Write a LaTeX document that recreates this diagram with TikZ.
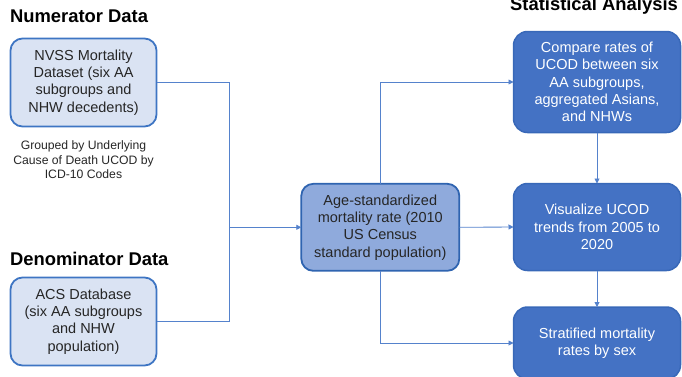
\documentclass[tikz,border=0pt]{standalone}
\usepackage{fontspec}
\setmainfont{Liberation Sans}
\usetikzlibrary{arrows.meta}
\definecolor{lightfill}{HTML}{DAE3F3}
\definecolor{lightborder}{HTML}{3E75C3}
\definecolor{midfill}{HTML}{8FAADC}
\definecolor{midborder}{HTML}{2F64B0}
\definecolor{darkfill}{HTML}{4472C4}
\definecolor{darkborder}{HTML}{3868B8}
\definecolor{linecol}{HTML}{5582CC}
\definecolor{txt}{HTML}{262626}
\begin{document}
\begin{tikzpicture}[x=1pt,y=-1pt,
  every node/.style={inner sep=0pt, outer sep=0pt},
  boxtext/.style={align=center, font=\fontsize{14.5}{17.3}\selectfont},
  lightbox/.style={boxtext, draw=lightborder, fill=lightfill, line width=1.8pt, rounded corners=12pt, minimum width=146pt, minimum height=88pt, text=txt},
  midbox/.style={boxtext, draw=midborder, fill=midfill, line width=1.8pt, rounded corners=12pt, minimum width=158pt, minimum height=87pt, text=txt},
  darkbox/.style={boxtext, draw=darkborder, fill=darkfill, line width=1.5pt, rounded corners=14pt, minimum width=167pt, text=white},
  heading/.style={font=\bfseries\fontsize{18.4}{21}\selectfont, text=black},
  note/.style={align=center, font=\fontsize{12.2}{14.5}\selectfont, text=txt},
  conn/.style={draw=linecol, line width=0.85pt},
  arr/.style={conn, -{Triangle[length=5pt,width=5pt]}}
]
\path[use as bounding box] (0,0) rectangle (682,376);
\clip (0,0) rectangle (682,376);

\node[heading, anchor=base west] (hnum) at (10,22.7) {Numerator Data};
\node[heading, anchor=base west] (hden) at (10,265) {Denominator Data};
\node[heading, anchor=base] (hstat) at (594,10) {Statistical Analysis};

\node[lightbox] (nvss) at (83.5,82.5) {NVSS Mortality\\Dataset (six AA\\subgroups and\\NHW decedents)};
\node[note] (grp) at (83.5,160) {Grouped by Underlying\\Cause of Death UCOD by\\ICD-10 Codes};
\node[lightbox] (acs) at (83.5,321.5) {ACS Database\\(six AA subgroups\\and NHW\\population)};

\node[midbox] (asr) at (380.3,227.3) {Age-standardized\\mortality rate (2010\\US Census\\standard population)};

\node[darkbox, minimum height=101pt] (r1) at (597,82) {Compare rates of\\UCOD between six\\AA subgroups,\\aggregated Asians,\\and NHWs};
\node[darkbox, minimum height=87pt] (r2) at (597,227) {Visualize UCOD\\trends from 2005 to\\2020};
\node[darkbox, minimum height=72pt] (r3) at (597,343) {Stratified mortality\\rates by sex};

\coordinate (j) at (229.3,227.3);
\draw[conn] (nvss.east) -| (j);
\draw[conn] (acs.east) -| (j);
\draw[arr] (j) -- (asr.west);
\draw[arr] (asr.north) |- (r1.west);
\draw[arr] (asr.east) -- (r2.west);
\draw[arr] (asr.south) |- (r3.west);
\draw[arr] (r1.south) -- (r2.north);
\draw[arr] (r2.south) -- (r3.north);
\end{tikzpicture}
\end{document}
